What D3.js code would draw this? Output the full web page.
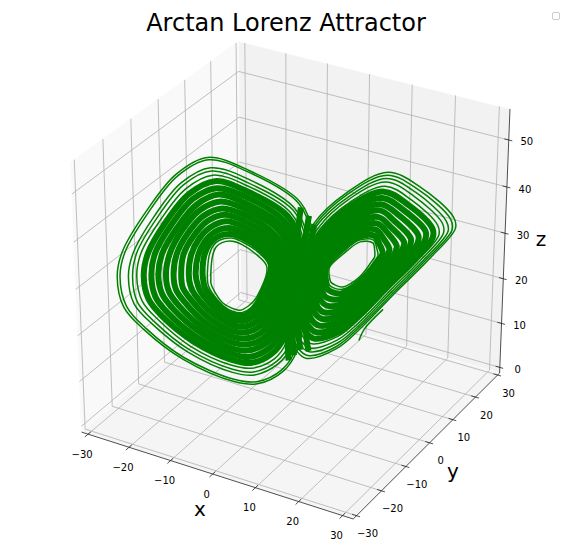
<!DOCTYPE html>
<html><head><meta charset="utf-8">
<script src="https://cdn.jsdelivr.net/npm/d3@7"></script>
<style>html,body{margin:0;padding:0;background:#fff}svg{display:block;font-family:"DejaVu Sans",sans-serif}</style>
</head><body><svg id="c" width="572" height="558"></svg>
<script>
const xTicks=[-30,-20,-10,0,10,20,30], yTicks=[-30,-20,-10,0,10,20,30], zTicks=[0,10,20,30,40,50];
const xLim=[-31.6,32.4], yLim=[-31.3,30.9], zLim=[-1.3,56.5];
const titleText="Arctan Lorenz Attractor";
const leftX=[
[-12,-11.7,-11.2,-10.3,-8.8,-7.4,-5.5,-3.8,-5.3,-6.5,-7.8,-9,-10.3,-11.3,-12,-12],
[-12.5,-12.2,-11.6,-10.6,-8.9,-7.4,-5.2,-3.5,-5,-6.2,-7.5,-8.9,-10.2,-11.5,-12.4,-12.5],
[-13.2,-12.9,-12.1,-10.9,-9.1,-7.3,-4.9,-3.2,-4.6,-5.9,-7.2,-8.7,-10.2,-11.7,-12.9,-13.1],
[-14.2,-13.8,-12.8,-11.3,-9.3,-7.2,-4.4,-2.7,-4,-5.4,-6.8,-8.4,-10.1,-12.1,-13.6,-14],
[-15.2,-14.8,-13.6,-11.8,-9.6,-7.1,-3.9,-2.2,-3.4,-4.8,-6.3,-8.1,-9.9,-12.5,-14.4,-15],
[-16.3,-15.9,-14.4,-12.3,-9.9,-7,-3.4,-1.6,-2.8,-4.2,-5.8,-7.8,-9.8,-12.9,-15.1,-16.1],
[-17.4,-16.9,-15.2,-12.9,-10.2,-7,-2.9,-1.1,-2.1,-3.7,-5.2,-7.5,-9.7,-13.3,-15.9,-17.1],
[-18.5,-17.9,-16,-13.4,-10.4,-6.9,-2.3,-.5,-1.5,-3.1,-4.7,-7.2,-9.6,-13.7,-16.7,-18.1],
[-19.6,-19,-16.7,-13.9,-10.7,-6.8,-1.8,0,-.9,-2.5,-4.2,-6.9,-9.5,-14,-17.5,-19.1],
[-20.6,-20,-17.5,-14.4,-11,-6.7,-1.3,.6,-.2,-2,-3.7,-6.6,-9.3,-14.4,-18.3,-20.1],
[-21.7,-21,-18.3,-14.9,-11.2,-6.6,-.7,1.1,.4,-1.4,-3.2,-6.3,-9.2,-14.8,-19.1,-21.1],
[-22.7,-22,-19,-15.4,-11.5,-6.5,-.3,1.6,.9,-.9,-2.7,-6.1,-9.1,-15.2,-19.7,-22],
[-23.3,-22.6,-19.5,-15.7,-11.7,-6.5,.1,1.9,1.3,-.5,-2.4,-5.9,-9,-15.4,-20.2,-22.7],
[-23.9,-23.1,-19.9,-16,-11.8,-6.4,.3,2.2,1.7,-.2,-2.2,-5.7,-9,-15.6,-20.6,-23.2],
[-25.1,-24.3,-20.8,-16.5,-12.1,-6.3,.9,2.8,2.4,.4,-1.6,-5.4,-8.8,-16.1,-21.5,-24.3],
[-25.5,-24.7,-21.1,-16.7,-12.2,-6.3,1.1,3,2.6,.6,-1.4,-5.3,-8.8,-16.2,-21.8,-24.7]];
const leftY=[
[-12,-11.7,-11.2,-10.3,-8.8,-7.4,-5.5,-3.8,-5.3,-6.5,-7.8,-9,-10.3,-11.3,-12,-12],
[-12.5,-12.2,-11.6,-10.6,-8.9,-7.4,-5.2,-3.5,-5,-6.2,-7.5,-8.9,-10.2,-11.5,-12.4,-12.5],
[-13.2,-12.9,-12.1,-10.9,-9.1,-7.3,-4.9,-3.2,-4.6,-5.9,-7.2,-8.7,-10.2,-11.7,-12.9,-13.1],
[-14.2,-13.8,-12.8,-11.3,-9.3,-7.2,-4.4,-2.7,-4,-5.4,-6.8,-8.4,-10.1,-12.1,-13.6,-14],
[-15.2,-14.8,-13.6,-11.8,-9.6,-7.1,-3.9,-2.2,-3.4,-4.8,-6.3,-8.1,-9.9,-12.5,-14.4,-15],
[-16.3,-15.9,-14.4,-12.3,-9.9,-7,-3.4,-1.6,-2.8,-4.2,-5.8,-7.8,-9.8,-12.9,-15.1,-16.1],
[-17.4,-16.9,-15.2,-12.9,-10.2,-7,-2.9,-1.1,-2.1,-3.7,-5.2,-7.5,-9.7,-13.3,-15.9,-17.1],
[-18.5,-17.9,-16,-13.4,-10.4,-6.9,-2.3,-.5,-1.5,-3.1,-4.7,-7.2,-9.6,-13.7,-16.7,-18.1],
[-19.6,-19,-16.7,-13.9,-10.7,-6.8,-1.8,0,-.9,-2.5,-4.2,-6.9,-9.5,-14,-17.5,-19.1],
[-20.6,-20,-17.5,-14.4,-11,-6.7,-1.3,.6,-.2,-2,-3.7,-6.6,-9.3,-14.4,-18.3,-20.1],
[-21.7,-21,-18.3,-14.9,-11.2,-6.6,-.7,1.1,.4,-1.4,-3.2,-6.3,-9.2,-14.8,-19.1,-21.1],
[-22.7,-22,-19,-15.4,-11.5,-6.5,-.3,1.6,.9,-.9,-2.7,-6.1,-9.1,-15.2,-19.7,-22],
[-23.3,-22.6,-19.5,-15.7,-11.7,-6.5,.1,1.9,1.3,-.5,-2.4,-5.9,-9,-15.4,-20.2,-22.7],
[-23.9,-23.1,-19.9,-16,-11.8,-6.4,.3,2.2,1.7,-.2,-2.2,-5.7,-9,-15.6,-20.6,-23.2],
[-25.1,-24.3,-20.8,-16.5,-12.1,-6.3,.9,2.8,2.4,.4,-1.6,-5.4,-8.8,-16.1,-21.5,-24.3],
[-25.5,-24.7,-21.1,-16.7,-12.2,-6.3,1.1,3,2.6,.6,-1.4,-5.3,-8.8,-16.2,-21.8,-24.7]];
const leftZ=[
[29.5,33.3,35,35.8,35.8,34.8,32.5,29.3,23.1,21.4,20.7,21.4,22.8,25,27.4,28.5],
[29.6,33.4,35.4,36.4,36.5,35.4,32.9,29.5,23.2,20.9,20.1,20.7,22.1,24.5,27.1,28.4],
[29.7,33.6,35.9,37.2,37.4,36.2,33.4,29.8,23.3,20.3,19.4,19.8,21.2,23.8,26.7,28.2],
[29.8,33.8,36.5,38.3,38.7,37.3,34.1,30.2,23.4,19.5,18.3,18.6,20,22.9,26.1,27.9],
[30,34.1,37.3,39.5,40.2,38.5,34.8,30.6,23.6,18.6,17.1,17.2,18.6,21.8,25.5,27.6],
[30.2,34.4,38,40.8,41.6,39.7,35.6,31.1,23.7,17.7,15.9,15.8,17.1,20.7,24.8,27.3],
[30.3,34.6,38.8,42,43,41,36.4,31.5,23.9,16.7,14.7,14.4,15.7,19.6,24.2,27.1],
[30.5,34.9,39.6,43.3,44.5,42.2,37.2,31.9,24,15.8,13.5,13,14.3,18.6,23.5,26.8],
[30.7,35.1,40.3,44.5,46,43.4,37.9,32.4,24.2,14.9,12.4,11.6,12.9,17.5,22.9,26.5],
[30.8,35.4,41.1,45.8,47.4,44.7,38.7,32.8,24.4,13.9,11.2,10.1,11.5,16.4,22.2,26.2],
[31,35.7,41.8,47,48.9,45.9,39.5,33.3,24.5,13,10,8.7,10.1,15.4,21.6,25.9],
[31.2,35.9,42.5,48.1,50.2,47,40.2,33.6,24.7,12.2,8.9,7.5,8.8,14.4,21,25.6],
[31.3,36.1,43,49,51.1,47.7,40.6,33.9,24.8,11.6,8.2,6.6,7.9,13.7,20.6,25.5],
[31.3,36.2,43.4,49.5,51.8,48.4,41,34.1,24.9,11.1,7.6,5.9,7.2,13.2,20.3,25.3],
[31.5,36.5,44.2,51,53.5,49.8,41.9,34.6,25,10.1,6.2,4.3,5.6,12,19.5,25],
[31.6,36.6,44.5,51.4,54,50.2,42.2,34.8,25.1,9.7,5.8,3.8,5.1,11.6,19.3,24.9]];
const rightX=[
[5.5,7.7,10,11.9,12.2,12.2,11.6,11.1,10,8.8,7.4,6.3,5.7,5.5,5.4],
[5.3,7.5,9.9,12,12.5,12.7,12.1,11.5,10.2,8.9,7.4,6.1,5.5,5.3,5.2],
[5,7.2,9.8,12.1,12.9,13.4,12.9,12,10.5,9,7.3,5.9,5.2,4.9,4.8],
[4.6,6.8,9.6,12.3,13.5,14.4,14,12.8,11,9.1,7.2,5.5,4.7,4.4,4.3],
[4.2,6.4,9.4,12.5,14.1,15.5,15.2,13.7,11.5,9.2,7.2,5.1,4.3,3.9,3.8],
[3.8,6,9.3,12.7,14.6,16.6,16.3,14.5,12,9.4,7.1,4.7,3.8,3.4,3.3],
[3.3,5.5,9.1,12.9,15.2,17.6,17.4,15.3,12.5,9.5,7,4.4,3.4,2.8,2.8],
[2.9,5.1,8.9,13,15.8,18.7,18.6,16.2,13,9.7,7,4,2.9,2.3,2.3],
[2.5,4.7,8.7,13.2,16.4,19.8,19.7,17,13.5,9.8,6.9,3.6,2.4,1.8,1.8],
[2.1,4.3,8.5,13.4,17,20.8,20.9,17.8,14,10,6.8,3.2,2,1.3,1.3],
[1.7,3.9,8.4,13.6,17.5,21.6,21.8,18.5,14.3,10.1,6.8,2.9,1.6,.9,.9],
[1.5,3.7,8.3,13.7,17.9,22.3,22.5,19,14.6,10.2,6.7,2.7,1.3,.5,.6],
[1.2,3.4,8.2,13.8,18.2,22.9,23.2,19.5,14.9,10.3,6.7,2.5,1.1,.2,.3],
[1,3.2,8.1,13.9,18.5,23.5,23.8,19.9,15.2,10.3,6.6,2.3,.8,-.1,0],
[.8,3,8,14,18.8,24,24.3,20.3,15.4,10.4,6.6,2.1,.6,-.3,-.2]];
const rightY=[
[5.5,7.7,10,11.9,12.2,12.2,11.6,11.1,10,8.8,7.4,6.3,5.7,5.5,5.4],
[5.3,7.5,9.9,12,12.5,12.7,12.1,11.5,10.2,8.9,7.4,6.1,5.5,5.3,5.2],
[5,7.2,9.8,12.1,12.9,13.4,12.9,12,10.5,9,7.3,5.9,5.2,4.9,4.8],
[4.6,6.8,9.6,12.3,13.5,14.4,14,12.8,11,9.1,7.2,5.5,4.7,4.4,4.3],
[4.2,6.4,9.4,12.5,14.1,15.5,15.2,13.7,11.5,9.2,7.2,5.1,4.3,3.9,3.8],
[3.8,6,9.3,12.7,14.6,16.6,16.3,14.5,12,9.4,7.1,4.7,3.8,3.4,3.3],
[3.3,5.5,9.1,12.9,15.2,17.6,17.4,15.3,12.5,9.5,7,4.4,3.4,2.8,2.8],
[2.9,5.1,8.9,13,15.8,18.7,18.6,16.2,13,9.7,7,4,2.9,2.3,2.3],
[2.5,4.7,8.7,13.2,16.4,19.8,19.7,17,13.5,9.8,6.9,3.6,2.4,1.8,1.8],
[2.1,4.3,8.5,13.4,17,20.8,20.9,17.8,14,10,6.8,3.2,2,1.3,1.3],
[1.7,3.9,8.4,13.6,17.5,21.6,21.8,18.5,14.3,10.1,6.8,2.9,1.6,.9,.9],
[1.5,3.7,8.3,13.7,17.9,22.3,22.5,19,14.6,10.2,6.7,2.7,1.3,.5,.6],
[1.2,3.4,8.2,13.8,18.2,22.9,23.2,19.5,14.9,10.3,6.7,2.5,1.1,.2,.3],
[1,3.2,8.1,13.9,18.5,23.5,23.8,19.9,15.2,10.3,6.6,2.3,.8,-.1,0],
[.8,3,8,14,18.8,24,24.3,20.3,15.4,10.4,6.6,2.1,.6,-.3,-.2]];
const rightZ=[
[27.4,30,31.9,31.3,29.5,28.2,27,26,24.3,23.2,22.6,23.3,24,25,26],
[27.5,30.3,32.3,31.9,30,28.4,27.2,26,24.1,22.8,22.1,22.7,23.4,24.6,25.7],
[27.6,30.7,33,32.8,30.8,28.8,27.5,26,23.8,22.2,21.2,21.8,22.6,23.9,25.3],
[27.9,31.3,34,34.1,31.9,29.4,28,26,23.4,21.3,20,20.4,21.3,22.9,24.7],
[28.1,32,35,35.4,33,29.9,28.4,26,23,20.4,18.8,19,20.1,21.9,24.1],
[28.3,32.6,36,36.7,34.1,30.5,28.9,26,22.6,19.5,17.6,17.6,18.8,20.9,23.5],
[28.5,33.2,37,38.1,35.2,31.1,29.3,26,22.2,18.6,16.4,16.2,17.5,19.9,22.9],
[28.7,33.9,38,39.4,36.4,31.6,29.8,25.9,21.8,17.6,15.2,14.8,16.2,18.9,22.3],
[28.9,34.5,39,40.7,37.5,32.2,30.2,25.9,21.4,16.7,14,13.4,15,18,21.6],
[29.2,35.1,39.9,42,38.6,32.7,30.7,25.9,21,15.8,12.7,12.1,13.7,17,21],
[29.3,35.6,40.7,43.1,39.5,33.2,31,25.9,20.6,15.1,11.8,11,12.7,16.2,20.6],
[29.5,36,41.4,44,40.2,33.5,31.3,25.9,20.3,14.5,11,10.1,11.9,15.5,20.2],
[29.6,36.4,41.9,44.7,40.9,33.8,31.6,25.9,20.1,14,10.3,9.3,11.2,15,19.8],
[29.7,36.7,42.5,45.4,41.5,34.2,31.8,25.9,19.9,13.5,9.6,8.5,10.5,14.4,19.5],
[29.8,37,42.9,46,42,34.4,32,25.9,19.7,13.1,9.1,7.9,9.9,14,19.2]];
const crossX=[[3.2,2.4,1.4,.8,1.2],[2.4,1.6,.6,0,.2],[4,3.4,2.5,2,2.4],[1.2,.5,-.3,-.8,-.6]];
const crossY=[[3.2,2.4,1.4,.8,1.2],[2.4,1.6,.6,0,.2],[4,3.4,2.5,2,2.4],[1.2,.5,-.3,-.8,-.6]];
const crossZ=[[37,31,23,15,10],[39,32,24,15,9],[35,29,21,14,9.5],[41,33,24,15,8]];
const startX=[10,10.8,13.6], startY=[10,10.8,13.6], startZ=[10.2,12.6,16.4];

const svg=d3.select("#c");
const sx=d3.scaleLinear().domain(xLim).range([-.5,.5]);
const sy=d3.scaleLinear().domain(yLim).range([-.5,.5]);
const sz=d3.scaleLinear().domain(zLim).range([-.5,.5]);
const px=d3.scaleLinear().domain([0,.1]).range([293.8,293.8+313.6]);
const py=d3.scaleLinear().domain([0,.1]).range([272,272-308]);
function P(x,y,z){const a=sx(x),b=sy(y),c=sz(z);
 const U=.8660254*a+.5*b, V=-.25*a+.4330127*b+.8660254*c, D=10-(.4330127*a-.75*b+.5*c);
 return [px(U/D),py(V/D)];}
const poly=pts=>"M"+pts.map(p=>P(...p).join(",")).join("L")+"Z";
const [x0,x1]=xLim,[y0,y1]=yLim,[z0,z1]=zLim;
const panes=[[[x0,y0,z0],[x0,y1,z0],[x0,y1,z1],[x0,y0,z1],"#f9f9f9"],[[x0,y1,z0],[x1,y1,z0],[x1,y1,z1],[x0,y1,z1],"#f2f2f2"],[[x0,y0,z0],[x1,y0,z0],[x1,y1,z0],[x0,y1,z0],"#f5f5f5"]];
panes.forEach(p=>svg.append("path").attr("d",poly(p.slice(0,4))).attr("fill",p[4]).attr("stroke","#fbfbfb"));
const L=pts=>d3.line()(pts.map(p=>P(...p)));
const grid=d=>svg.append("path").attr("d",L(d)).attr("fill","none").attr("stroke","#b0b0b0").attr("stroke-width",.8);
xTicks.forEach(t=>grid([[t,y0,z0],[t,y1,z0],[t,y1,z1]]));
yTicks.forEach(t=>grid([[x1,t,z0],[x0,t,z0],[x0,t,z1]]));
zTicks.forEach(t=>grid([[x0,y0,t],[x0,y1,t],[x1,y1,t]]));
const ax=d=>svg.append("path").attr("d",L(d)).attr("fill","none").attr("stroke","#222").attr("stroke-width",.8);
ax([[x0,y0,z0],[x1,y0,z0]]);ax([[x1,y0,z0],[x1,y1,z0]]);ax([[x1,y1,z0],[x1,y1,z1]]);
const fmt=t=>String(t).replace("-","\u2212");
const lab=(p,dx,dy,t)=>svg.append("text").attr("x",p[0]+dx).attr("y",p[1]+dy).attr("text-anchor","middle").attr("dominant-baseline","central").attr("font-size",10).attr("fill","#000").text(fmt(t));
xTicks.forEach(t=>{ax([[t,y0-1.2,z0],[t,y0+1,z0]]);lab(P(t,y0,z0),-6,20,t)});
yTicks.forEach(t=>{ax([[x1-1,t,z0],[x1+.8,t,z0]]);lab(P(x1,t,z0),11,18,t)});
zTicks.forEach(t=>{ax([[x1-1,y1,t],[x1+.8,y1,t]]);lab(P(x1,y1,t),18,2,t)});
const closed=d3.line().curve(d3.curveCatmullRomClosed.alpha(.5));
const open=d3.line().curve(d3.curveCatmullRom.alpha(.5));
function loops(X,Y,Z,from,to,w,gen){for(let i=from;i<to;i++){const pts=X[i].map((x,j)=>P(x,Y[i][j],Z[i][j]));
 svg.append("path").attr("d",gen(pts)).attr("fill","none").attr("stroke","#008000").attr("stroke-width",w);}}
const thin=1.5, dense=6;
loops(leftX,leftY,leftZ,2,11,dense,closed);loops(rightX,rightY,rightZ,2,10,dense,closed);
loops(crossX,crossY,crossZ,0,4,dense,open);
loops(leftX,leftY,leftZ,0,2,thin,closed);loops(leftX,leftY,leftZ,11,16,thin,closed);
loops(rightX,rightY,rightZ,0,2,thin,closed);loops(rightX,rightY,rightZ,10,15,thin,closed);
svg.append("path").attr("d",open(startX.map((x,i)=>P(x,startY[i],startZ[i])))).attr("fill","none").attr("stroke","#008000").attr("stroke-width",thin);
const T=(x,y,s,t)=>svg.append("text").attr("x",x).attr("y",y).attr("text-anchor","middle").attr("dominant-baseline","central").attr("font-size",s).text(t);
T(286,23,24,titleText);T(200,509,20,"x");T(453,471,20,"y");T(541,239,20,"z");
svg.append("rect").attr("x",552.5).attr("y",12.5).attr("width",7).attr("height",7).attr("rx",1.5).attr("fill","#fff").attr("stroke","#ccc");
</script></body></html>
